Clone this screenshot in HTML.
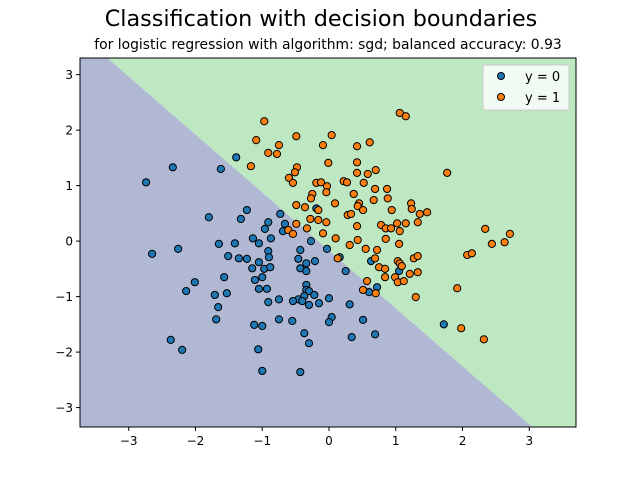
<!DOCTYPE html>
<html><head><meta charset="utf-8"><style>
html,body{margin:0;padding:0;background:#fff;overflow:hidden;width:640px;height:480px;position:relative;}
svg{display:block;position:absolute;left:0;top:0;font-family:"DejaVu Sans","Liberation Sans",sans-serif;}
</style></head><body>
<svg id="chart" width="640" height="480" viewBox="0 0 640 480">
<text x="321" y="26" text-anchor="middle" font-size="22.3">Classification with decision boundaries</text>
<text x="328" y="49" text-anchor="middle" font-size="13.9">for logistic regression with algorithm: sgd; balanced accuracy: 0.93</text>
<defs><clipPath id="clip"><rect x="80" y="58" width="496" height="369"/></clipPath></defs>
<g id="regions" clip-path="url(#clip)"></g>
<g id="points" clip-path="url(#clip)"></g>
<rect x="80" y="58" width="496" height="369" fill="none" stroke="#000" stroke-width="1"/>
<g id="axes"></g>
<g>
<rect x="483" y="65" width="86" height="45" rx="2" fill="#fff" fill-opacity="0.8" stroke="#ccc"/>
<circle cx="501" cy="76" r="3.5" fill="#1f77b4" stroke="#000" stroke-width="1"/>
<text x="525" y="81" font-size="13">y = 0</text>
<circle cx="501" cy="97" r="3.5" fill="#ff7f0e" stroke="#000" stroke-width="1"/>
<text x="525" y="102" font-size="13">y = 1</text>
</g>
</svg>
<script>
const xTicks=[-3,-2,-1,0,1,2,3];
const yTicks=[-3,-2,-1,0,1,2,3];
const xDomain=[-3.73,3.70];
const yDomain=[-3.35,3.30];
const boundary=[-0.166,-1.044]; // intercept, slope
const class0X=[-2.74,-2.34,-1.62,-1.39,-1.80,-1.23,-1.32,-0.73,-0.91,-0.66,-0.96,-0.69,-0.87,-1.14,-1.05,-1.41,-1.65,-2.26,-2.65,-1.51,-1.35,-1.23,-0.91,-0.90,-0.43,-0.27,-0.19,-0.03,-0.46,-0.21,-1.05,-1.15,-0.97,-0.88,-1.00,-1.11,-1.57,-2.01,-2.14,-1.71,-1.53,-1.05,-0.93,-0.91,-0.75,-1.66,-1.69,-1.12,-1.00,-0.75,-0.55,-2.37,-2.20,-1.06,-1.00,-0.43,-0.37,-0.30,-0.34,-0.43,-0.34,-0.34,-0.34,-0.30,-0.22,-0.37,-0.46,-0.54,-0.40,-0.30,-0.15,0.00,0.04,0.00,0.31,0.34,0.25,0.16,0.63,1.05,0.51,0.69,0.72,0.60,1.72];
const class0Y=[1.06,1.33,1.30,1.51,0.43,0.56,0.40,0.49,0.34,0.31,0.22,0.18,0.05,0.05,-0.04,-0.04,-0.05,-0.14,-0.23,-0.27,-0.31,-0.32,-0.18,-0.29,-0.16,0.00,0.59,-0.14,-0.32,-0.36,-0.38,-0.49,-0.50,-0.47,-0.65,-0.70,-0.65,-0.74,-0.90,-0.97,-0.94,-0.86,-0.86,-1.10,-1.05,-1.19,-1.41,-1.51,-1.53,-1.41,-1.44,-1.78,-1.96,-1.95,-2.34,-2.36,-1.66,-1.84,-0.40,-0.49,-0.54,-0.79,-0.88,-0.90,-0.97,-0.99,-1.05,-1.08,-1.08,-1.15,-1.12,-1.03,-1.37,-1.46,-1.14,-1.73,-0.54,-0.29,-0.36,-0.54,-1.42,-1.68,-0.83,-0.92,-1.50];
const class1X=[-1.09,-0.97,-0.75,-0.91,-0.78,-0.49,0.04,-0.09,0.42,0.61,1.06,1.15,-0.01,0.42,-0.48,-0.51,-1.17,0.42,0.58,0.70,-0.60,-0.54,-0.19,-0.12,-0.03,0.22,0.27,0.52,-0.04,-0.25,-0.27,0.37,0.69,0.87,0.88,0.67,0.09,0.45,0.43,0.51,-0.49,-0.36,-0.16,1.23,1.24,1.36,1.47,0.94,1.77,0.28,0.33,-0.28,-0.16,-0.04,-0.49,-0.33,-0.61,-0.54,-0.09,0.10,0.31,0.43,0.42,0.78,0.85,0.93,1.02,1.15,1.33,1.06,0.85,1.05,0.55,0.72,0.69,0.13,1.03,1.06,1.09,1.27,1.33,0.75,0.84,0.84,0.99,1.03,1.12,1.21,1.33,0.57,0.51,0.70,1.30,1.92,1.98,2.32,2.07,2.14,2.34,2.44,2.63,2.71];
const class1Y=[1.82,2.16,1.73,1.59,1.57,1.89,1.91,1.73,1.71,1.78,2.31,2.25,1.41,1.42,1.33,1.24,1.35,1.23,1.21,1.28,1.14,1.05,1.05,1.06,0.99,1.08,1.06,1.05,0.88,0.85,0.77,0.85,0.94,0.94,0.77,0.74,0.68,0.68,0.63,0.56,0.65,0.61,0.56,0.68,0.58,0.49,0.52,0.56,1.23,0.47,0.49,0.40,0.38,0.34,0.31,0.23,0.20,0.13,0.14,0.05,-0.07,0.02,0.27,0.29,0.23,0.23,0.32,0.32,0.34,0.18,0.04,-0.05,-0.14,-0.16,-0.31,-0.31,-0.36,-0.40,-0.45,-0.31,-0.27,-0.47,-0.50,-0.65,-0.65,-0.74,-0.72,-0.59,-0.56,-0.72,-0.88,-0.94,-1.01,-0.85,-1.57,-1.77,-0.25,-0.22,0.22,-0.05,-0.02,0.13];

const L=80,R=576,T=58,B=427;
const sx=v=>L+(v-xDomain[0])/(xDomain[1]-xDomain[0])*(R-L);
const sy=v=>B-(v-yDomain[0])/(yDomain[1]-yDomain[0])*(B-T);
const NS='http://www.w3.org/2000/svg';
function mk(tag,attrs,parent){const e=document.createElementNS(NS,tag);for(const k in attrs)e.setAttribute(k,attrs[k]);parent.appendChild(e);return e;}

const reg=document.getElementById('regions');
const xa=xDomain[0],xb=xDomain[1];
const ya=boundary[0]+boundary[1]*xa,yb=boundary[0]+boundary[1]*xb;
const lo=yDomain[0],hi=yDomain[1];
const p0=mk('polygon',{points:`${sx(xa)},${sy(ya)} ${sx(xb)},${sy(yb)} ${sx(xb)},${sy(lo)} ${sx(xa)},${sy(lo)}`,fill:'#b0b8d3'},reg);


const p1=mk('polygon',{points:`${sx(xa)},${sy(ya)} ${sx(xb)},${sy(yb)} ${sx(xb)},${sy(hi)} ${sx(xa)},${sy(hi)}`,fill:'#bde8c1'},reg);



const pts=document.getElementById('points');
class0X.forEach((x,i)=>{
  const c=mk('circle',{cx:sx(x),cy:sy(class0Y[i]),r:3.6,fill:'#1f77b4',stroke:'#000','stroke-width':1},pts);
  
  
});
class1X.forEach((x,i)=>{
  const c=mk('circle',{cx:sx(x),cy:sy(class1Y[i]),r:3.6,fill:'#ff7f0e',stroke:'#000','stroke-width':1},pts);
  
  
});

const ax=document.getElementById('axes');
xTicks.forEach(t=>{
  const x=sx(t);
  const l=mk('line',{x1:x,x2:x,y1:B,y2:B+4,stroke:'#000'},ax);
  
  
  const tx=mk('text',{x:x,y:B+18,'text-anchor':'middle','font-size':12},ax);
  tx.textContent=t<0?'\u2212'+Math.abs(t):String(t);
  
  
});
yTicks.forEach(t=>{
  const y=sy(t);
  const l=mk('line',{x1:L-4,x2:L,y1:y,y2:y,stroke:'#000'},ax);
  
  
  const tx=mk('text',{x:L-7,y:y+4.5,'text-anchor':'end','font-size':12},ax);
  tx.textContent=t<0?'\u2212'+Math.abs(t):String(t);
  
  
});
</script>
</body></html>
